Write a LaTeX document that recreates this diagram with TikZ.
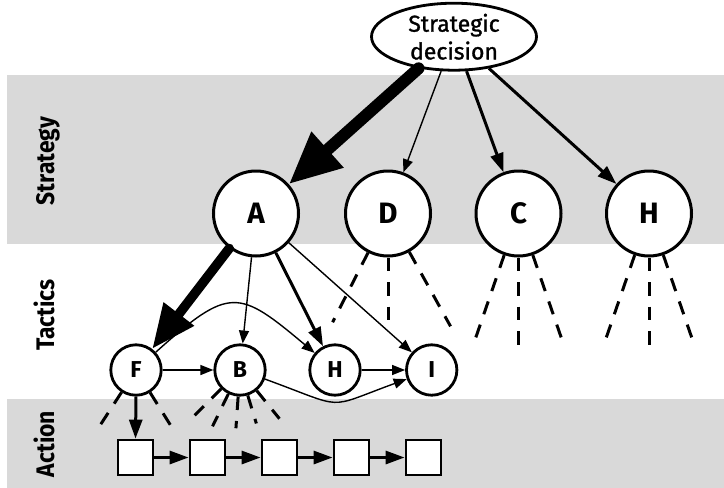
\documentclass[tikz,border=0pt]{standalone}
\usepackage{fontspec}
\setmainfont{Fira Sans}
\newfontfamily\labfont[FakeStretch=0.9]{Fira Sans}
\newfontfamily\sdfont[FakeBold=1.2]{Fira Sans}
\usetikzlibrary{arrows.meta,shapes.geometric,calc}
\definecolor{bandgray}{RGB}{217,217,217}
\begin{document}
\begin{tikzpicture}[x=1pt,y=-1pt,
  big/.style={circle, draw, line width=3pt, fill=white, minimum size=85pt, inner sep=0pt, font=\bfseries\fontsize{29.5}{34}\selectfont},
  small/.style={circle, draw, line width=2.8pt, fill=white, minimum size=50.4pt, inner sep=0pt, font=\bfseries\fontsize{23}{26}\selectfont},
  box/.style={rectangle, draw, line width=2.8pt, fill=white, minimum size=35pt, inner sep=0pt},
  lab/.style={rotate=90, anchor=base, font=\labfont\bfseries\fontsize{25.4}{30}\selectfont},
  thinarr/.style={line width=1.4pt, -{Triangle[length=13pt,width=10pt]}},
  medarr/.style={line width=3pt, -{Triangle[length=19pt,width=13pt]}},
  thickA/.style={line width=12pt, line cap=round, -{Triangle[length=52pt,width=45pt]}},
  thickB/.style={line width=9.5pt, line cap=round, -{Triangle[length=44pt,width=36pt]}},
  dsh/.style={line width=3pt, dash pattern=on 13.5pt off 11pt},
]
\useasboundingbox (0,0) rectangle (724,488);
% bands
\fill[bandgray] (7,75) rectangle (724,244);
\fill[bandgray] (7,399) rectangle (724,488);
% band labels
\node[lab] (lstrat) at (54.5,161) {Strategy};
\node[lab] (ltac) at (54.5,315) {Tactics};
\node[lab] (lact) at (54.5,444) {Action};
% nodes
\node[ellipse, draw, line width=2.8pt, fill=white, minimum width=165pt, minimum height=67pt, inner sep=0pt, align=center, font=\sdfont\fontsize{23}{27.7}\selectfont] (sd) at (454,36.7) {Strategic\\decision};
\node[big] (A) at (256,213.5) {A};
\node[big] (D) at (388,213.5) {D};
\node[big] (C) at (518.5,213.5) {C};
\node[big] (H1) at (649,213.5) {H};
\node[small] (F) at (136,370) {F};
\node[small] (B) at (240,370) {B};
\node[small] (H2) at (335,370) {H};
\node[small] (I) at (431.7,370) {I};
\node[box] (s1) at (135.5,457.5) {};
\node[box] (s2) at (207.5,457.5) {};
\node[box] (s3) at (279.5,457.5) {};
\node[box] (s4) at (351.5,457.5) {};
\node[box] (s5) at (423.5,457.5) {};
% dashed radial lines
\foreach \ang/\len in {243.5/122, 270/107, 299.8/129}
  \draw[dsh] (D.\ang) -- ($(D)!\len pt!(D.\ang)$);
\foreach \ang/\len in {251/131, 270/131.5, 289/131}
  \draw[dsh] (C.\ang) -- ($(C)!\len pt!(C.\ang)$);
\foreach \ang/\len in {251.4/131, 270/131.5, 289.5/131}
  \draw[dsh] (H1.\ang) -- ($(H1)!\len pt!(H1.\ang)$);
\foreach \ang/\len in {237.7/65, 302.6/65.3}
  \draw[dsh] (F.\ang) -- ($(F)!\len pt!(F.\ang)$);
\foreach \ang/\len in {225.6/64, 244.8/62.7, 266.8/58.4, 287.4/55.9, 309.6/62.7}
  \draw[dsh] (B.\ang) -- ($(B)!\len pt!(B.\ang)$);
% connectors
\draw[thickA] (sd) -- (A);
\draw[thinarr] (sd) -- (D);
\draw[medarr] (sd) -- (C);
\draw[medarr] (sd) -- (H1);
\draw[thickB] (A) -- (F);
\draw[thinarr] (A) -- (B);
\draw[medarr] (A) -- (H2);
\draw[thinarr] (A) -- (I);
\draw[thinarr] (F) -- (B);
\draw[thinarr] (H2) -- (I);
\draw[thinarr] (F) to[out=42,in=140,looseness=1.6] (H2);
\draw[thinarr] (B) to[out=-20,in=200,looseness=1.6] (I);
\draw[medarr] (F.south) -- (s1.north);
\draw[medarr] (s1) -- (s2);
\draw[medarr] (s2) -- (s3);
\draw[medarr] (s3) -- (s4);
\draw[medarr] (s4) -- (s5);
\end{tikzpicture}
\end{document}
